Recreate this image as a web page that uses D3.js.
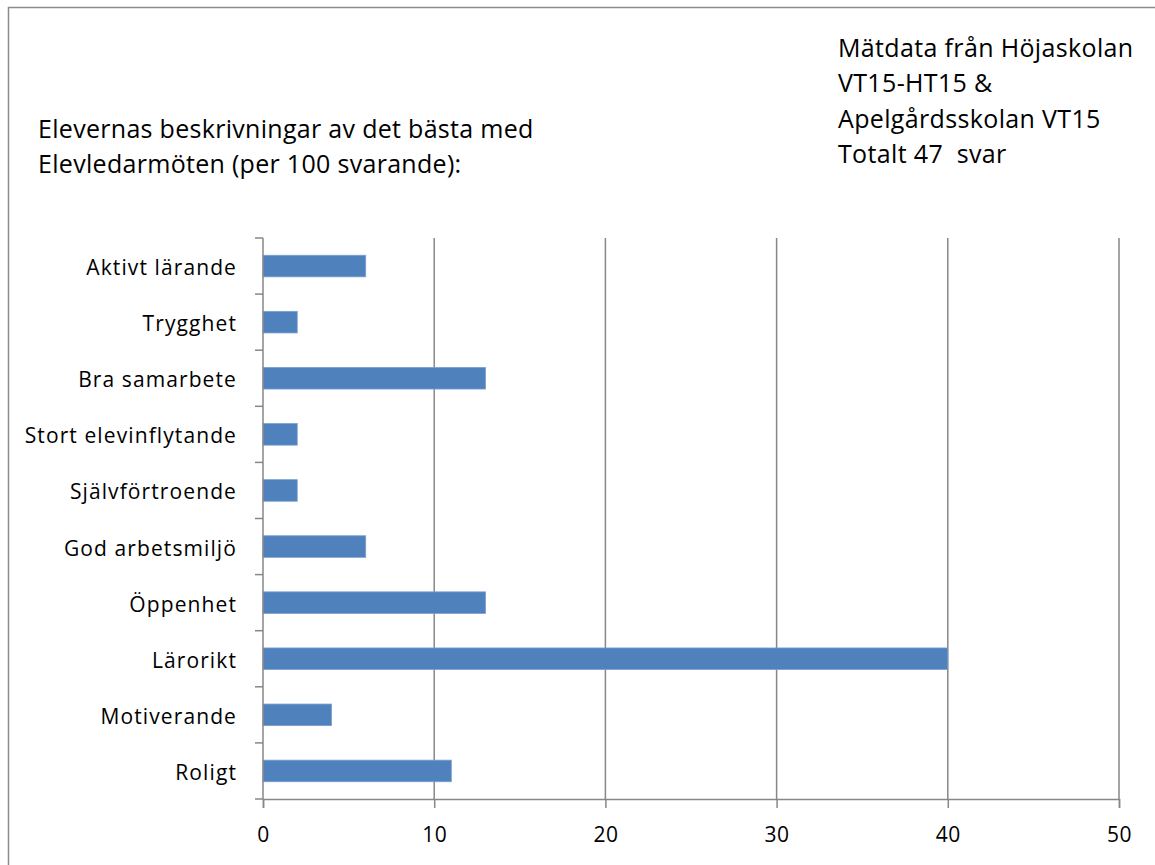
<!DOCTYPE html>
<html>
<head>
<meta charset="utf-8">
<script src="https://cdn.jsdelivr.net/npm/d3@7"></script>
<style>
body { margin: 0; background: #fff; }
text { font-family: "Open Sans", Lato, sans-serif; fill: #000; }
</style>
</head>
<body>
<div id="chart"></div>
<script>
// data
var categories = ['Aktivt lärande', 'Trygghet', 'Bra samarbete', 'Stort elevinflytande', 'Självförtroende',
	'God arbetsmiljö', 'Öppenhet', 'Lärorikt', 'Motiverande', 'Roligt'];
var values = [6, 2, 13, 2, 2, 6, 13, 40, 4, 11];
var xTicks = [0, 10, 20, 30, 40, 50];
var titleLines = ['Elevernas beskrivningar av det bästa med', 'Elevledarmöten (per 100 svarande):'];
var noteLines = ['Mätdata från Höjaskolan', 'VT15-HT15 &', 'Apelgårdsskolan VT15', 'Totalt 47  svar'];

var svgWidth = 1155;
var svgHeight = 865;
var margin = {top: 238, right: 36, bottom: 66, left: 263};
var width = svgWidth - margin.left - margin.right;
var height = svgHeight - margin.top - margin.bottom;

var svg = d3.select('#chart')
	.append('svg')
	.attr('width', svgWidth)
	.attr('height', svgHeight);

// outer frame
svg.append('rect')
	.attr('x', 8.5).attr('y', 7.5)
	.attr('width', svgWidth + 20).attr('height', svgHeight + 20)
	.style('fill', 'none')
	.style('stroke', '#8c8c8c')
	.style('stroke-width', 1.5);

var g = svg.append('g')
	.attr('transform', 'translate(' + margin.left + ',' + margin.top + ')');

var x = d3.scaleLinear().domain([0, 50]).range([0, width]);
var y = d3.scaleBand().domain(categories).range([0, height]).paddingInner(0.615).paddingOuter(0.3075);

// gridlines
g.append('g')
	.selectAll('line')
	.data(xTicks.slice(1))
	.enter()
	.append('line')
	.attr('x1', d => x(d)).attr('x2', d => x(d))
	.attr('y1', 0).attr('y2', height)
	.style('stroke', '#878787')
	.style('stroke-width', 1.5);

// bars
g.append('g')
	.selectAll('rect')
	.data(values)
	.enter()
	.append('rect')
	.attr('x', 0)
	.attr('y', (d, i) => y(categories[i]))
	.attr('width', d => x(d))
	.attr('height', y.bandwidth())
	.style('fill', '#4f81bd')
	.style('stroke', '#7aa0d0')
	.style('stroke-width', 0.8);

// x axis
var xAxis = g.append('g')
	.attr('transform', 'translate(0,' + height + ')')
	.call(d3.axisBottom(x).tickValues(xTicks).tickSize(9).tickPadding(19));
xAxis.select('.domain').attr('stroke', '#878787').attr('stroke-width', 1.5);
xAxis.selectAll('.tick line').attr('stroke', '#878787').attr('stroke-width', 1.5);
xAxis.selectAll('text')
	.style('font-size', '21px')
	.style('font-family', '"Open Sans", sans-serif')
	.style('letter-spacing', '0.5px')
	.attr('fill', '#000');

// y axis with ticks on band boundaries
var step = height / categories.length;
var yAxis = g.append('g');
yAxis.append('line')
	.attr('x1', 0).attr('x2', 0).attr('y1', 0).attr('y2', height)
	.style('stroke', '#878787').style('stroke-width', 1.5);
yAxis.selectAll('.ytick')
	.data(d3.range(categories.length + 1))
	.enter()
	.append('line')
	.attr('x1', -8).attr('x2', 0)
	.attr('y1', d => d * step).attr('y2', d => d * step)
	.style('stroke', '#878787').style('stroke-width', 1.5);
yAxis.selectAll('.ylabel')
	.data(categories)
	.enter()
	.append('text')
	.attr('x', -26)
	.attr('y', d => y(d) + y.bandwidth() / 2)
	.attr('dy', '0.43em')
	.attr('text-anchor', 'end')
	.style('font-size', '21px')
	.style('letter-spacing', '1.1px')
	.text(d => d);

// titles
svg.append('g')
	.selectAll('text')
	.data(titleLines)
	.enter()
	.append('text')
	.attr('x', 38)
	.attr('y', (d, i) => 138 + i * 34.5)
	.style('font-size', '25px')
	.style('letter-spacing', '0.3px')
	.text(d => d);

svg.append('g')
	.selectAll('text')
	.data(noteLines)
	.enter()
	.append('text')
	.attr('x', 838)
	.attr('y', (d, i) => 57 + i * 35.3)
	.style('font-size', '25px')
	.style('letter-spacing', '0.35px')
	.style('white-space', 'pre')
	.text(d => d);
</script>
</body>
</html>
